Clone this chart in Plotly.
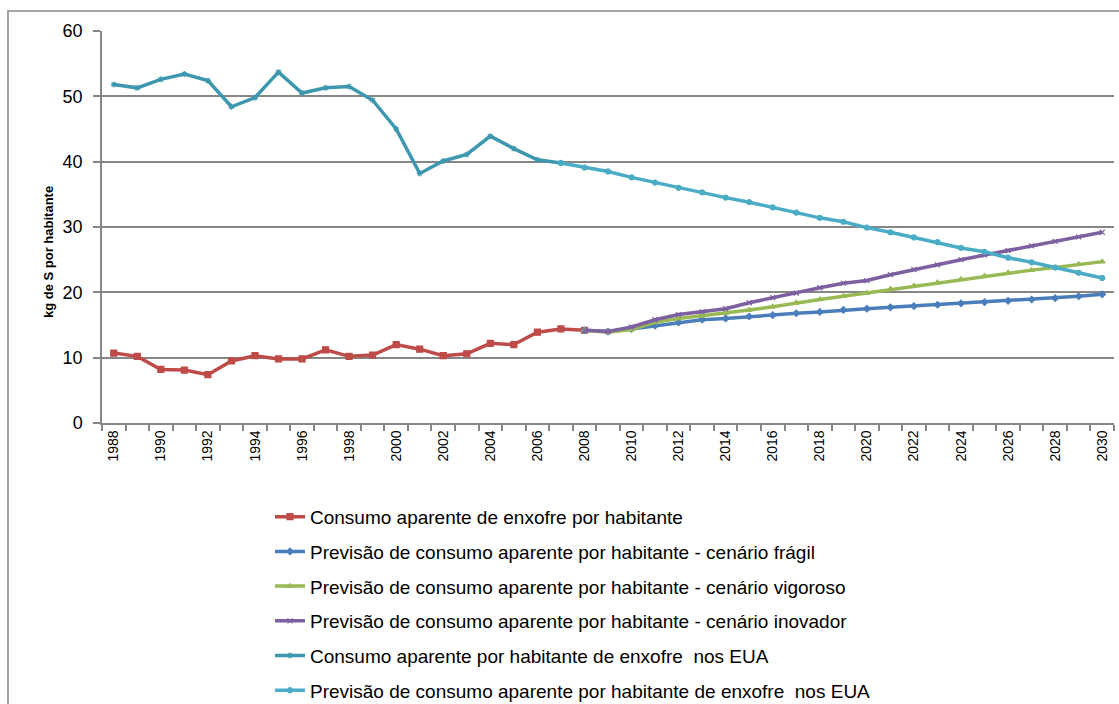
import plotly.graph_objects as go

# Years on the category axis
years_hist = list(range(1988, 2009))          # 1988-2008
years_fcst = list(range(2008, 2031))          # 2008-2030
years_usa_hist = list(range(1988, 2008))      # 1988-2007
years_usa_fcst = list(range(2007, 2031))      # 2007-2030
tick_years = list(range(1988, 2031, 2))
tick_labels = [str(y) for y in tick_years]

# kg de S por habitante
consumo_brasil = [10.7, 10.2, 8.2, 8.1, 7.4, 9.5, 10.3, 9.8, 9.8, 11.2, 10.2,
                  10.4, 12.0, 11.3, 10.3, 10.6, 12.2, 12.0, 13.9, 14.4, 14.2]

prev_fragil = [14.2, 14.0, 14.4, 14.9, 15.4, 15.8, 16.0, 16.3, 16.5, 16.8, 17.0,
               17.3, 17.5, 17.7, 17.9, 18.1, 18.3, 18.5, 18.7, 18.9, 19.1, 19.4, 19.7]

prev_vigoroso = [14.2, 13.9, 14.3, 15.4, 16.0, 16.4, 16.8, 17.3, 17.8, 18.4, 18.9,
                 19.4, 19.9, 20.5, 21.0, 21.5, 22.0, 22.5, 23.0, 23.4, 23.8, 24.3, 24.7]

prev_inovador = [14.2, 14.0, 14.7, 15.8, 16.6, 17.0, 17.5, 18.4, 19.2, 19.9, 20.7,
                 21.4, 21.8, 22.7, 23.5, 24.2, 25.0, 25.7, 26.4, 27.1, 27.8, 28.5, 29.2]

consumo_eua = [51.8, 51.3, 52.6, 53.4, 52.4, 48.4, 49.8, 53.7, 50.5, 51.3,
               51.5, 49.4, 45.0, 38.2, 40.1, 41.1, 43.9, 42.0, 40.3, 39.8]

prev_eua = [39.8, 39.1, 38.5, 37.6, 36.8, 36.0, 35.3, 34.5, 33.8, 33.0, 32.2, 31.4,
            30.8, 29.9, 29.2, 28.4, 27.7, 26.8, 26.2, 25.3, 24.6, 23.8, 23.0, 22.2]

series = [
    ("Consumo aparente de enxofre por habitante", years_hist, consumo_brasil,
     "#BE4B48", "square", 6),
    ("Previsão de consumo aparente por habitante - cenário frágil", years_fcst, prev_fragil,
     "#4A7EBB", "diamond", 5),
    ("Previsão de consumo aparente por habitante - cenário vigoroso", years_fcst, prev_vigoroso,
     "#98B954", "triangle-up", 5),
    ("Previsão de consumo aparente por habitante - cenário inovador", years_fcst, prev_inovador,
     "#7D60A0", "x-thin-open", 5),
    ("Consumo aparente por habitante de enxofre  nos EUA", years_usa_hist, consumo_eua,
     "#3D97AF", "asterisk-open", 5),
    ("Previsão de consumo aparente por habitante de enxofre  nos EUA", years_usa_fcst, prev_eua,
     "#4BACC6", "circle", 5),
]

fig = go.Figure()
for i, (name, xs, ys, color, symbol, msize) in enumerate(series):
    fig.add_trace(go.Scatter(
        x=xs, y=ys, name=name, mode="lines+markers",
        legendgroup=f"g{i}",
        line=dict(color=color, width=3.5),
        marker=dict(color=color, symbol=symbol, size=msize,
                    line=dict(color=color, width=1.2)),
    ))

FONT = "Liberation Sans, Arial, sans-serif"
GRID = "#868686"

fig.update_layout(
    width=1119, height=704,
    margin=dict(l=102, r=5, t=31, b=281, autoexpand=False),
    paper_bgcolor="white", plot_bgcolor="white",
    font=dict(family=FONT, color="black"),
    showlegend=True,
    legend=dict(
        x=0.166, y=-0.191, xanchor="left", yanchor="top",
        font=dict(family=FONT, size=19, color="black"),
        traceorder="grouped", tracegroupgap=7,
        bgcolor="rgba(0,0,0,0)", itemwidth=30,
    ),
    xaxis=dict(
        range=[1987.5, 2030.5],
        tickmode="array", tickvals=tick_years, ticktext=tick_labels,
        tickangle=-90, ticks="", showgrid=False, zeroline=False,
        showline=True, linecolor=GRID, linewidth=1.5,
        tickfont=dict(family=FONT, size=14, color="black"),
        minor=dict(ticks="outside", tick0=1987.5, dtick=1, ticklen=6,
                   tickcolor=GRID, tickwidth=1.5, showgrid=False),
    ),
    yaxis=dict(
        range=[0, 60], dtick=10, tick0=0,
        showgrid=True, gridcolor=GRID, gridwidth=1.5,
        zeroline=False, showline=True, linecolor=GRID, linewidth=1.5,
        ticks="outside", ticklen=7, tickcolor=GRID, tickwidth=1.5,
        ticklabelstandoff=7,
        tickfont=dict(family=FONT, size=18, color="black"),
    ),
    annotations=[dict(
        text="<b>kg de S por habitante</b>", textangle=-90,
        xref="paper", yref="paper", x=-0.0534, y=0.436,
        xanchor="center", yanchor="middle", showarrow=False,
        font=dict(family=FONT, size=13, color="black"),
    )],
)

# Chart area border (top and left edges fall inside the frame)
fig.add_shape(type="rect", xref="paper", yref="paper",
              x0=-0.0929, x1=1.2, y0=-1.0, y1=1.051,
              line=dict(color=GRID, width=1.5), fillcolor="rgba(0,0,0,0)",
              layer="below")

fig.write_html("out.html")
